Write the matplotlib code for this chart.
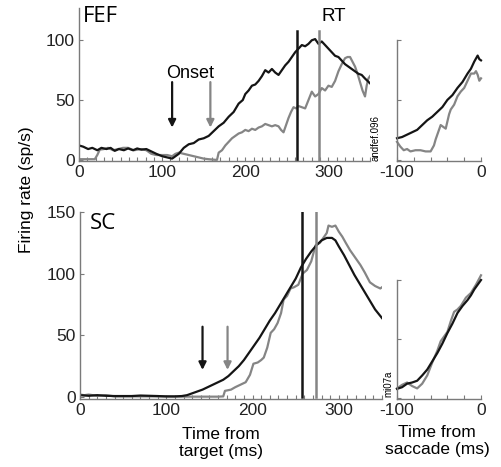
import matplotlib
matplotlib.use('Agg')
import matplotlib.pyplot as plt
from matplotlib.ticker import MultipleLocator, FixedLocator

plt.rcParams['font.family'] = ['Liberation Sans', 'DejaVu Sans']
plt.rcParams['axes.unicode_minus'] = False

# ---- data ----
# FEF, aligned on target (ms, sp/s)
fef_t_black = [0, 5, 11, 16, 22, 27, 33, 38, 43, 48, 54, 59, 65, 70, 75, 81, 87, 93, 100, 106,
               112, 116, 120, 126, 132, 138, 144, 150, 156, 162, 168, 174, 180, 186, 192, 197,
               200, 204, 208, 212, 216, 220, 224, 228, 232, 236, 240, 244, 248, 252, 256, 260,
               264, 268, 272, 276, 280, 284, 288, 292, 296, 300, 304, 308, 312, 316, 320, 324,
               328, 332, 336, 340, 344, 350]
fef_v_black = [12, 11, 9, 10, 8, 10, 9, 10, 7.5, 9, 8, 9.5, 8, 9.5, 8.5, 9, 7, 5, 3, 2,
               1, 3, 5, 10, 13, 14, 17, 18, 20, 24, 28, 31, 36, 40, 47, 50,
               55, 58, 62, 63, 66, 70, 75, 73, 76, 73, 71, 75, 79, 82, 86, 90,
               93, 96, 95, 97, 100, 101, 97, 99, 96, 93, 90, 87, 86, 83, 80, 78,
               76, 74, 72, 71, 68, 64]
fef_t_gray = [0, 10, 19, 22, 25, 30, 35, 41, 47, 53, 59, 66, 75, 81, 87, 93, 100, 106, 112,
              116, 120, 126, 132, 138, 144, 150, 156, 164, 166, 168, 172, 176, 180, 184, 188,
              192, 196, 200, 204, 208, 212, 216, 220, 224, 228, 232, 236, 240, 243, 246, 249,
              252, 255, 258, 261, 264, 268, 272, 276, 280, 284, 288, 292, 296, 300, 304, 308,
              312, 316, 320, 323, 326, 329, 332, 335, 338, 341, 344, 346, 348, 350]
fef_v_gray = [0.5, 0.5, 0.5, 4, 8.5, 9, 10, 8, 9, 10, 10, 8, 9, 8, 5, 4, 4, 4, 3,
              5, 6, 5, 4, 3, 2, 1, 0.5, 0, 0, 6, 8, 12, 15, 18, 20,
              22, 23, 25, 24, 26, 25, 27, 28, 30, 29, 28, 29, 28, 25, 23, 29,
              35, 40, 44, 43, 45, 44, 43, 50, 57, 53, 55, 60, 58, 62, 61, 66,
              74, 80, 85, 86, 86, 82, 78, 72, 65, 58, 53, 62, 68, 70]

# FEF, aligned on saccade
fef_s_black = [-100, -94, -88, -82, -76, -70, -64, -58, -52, -46, -40, -34, -28, -22, -16, -12, -8, -4, -2, 0]
fef_sv_black = [18, 19, 21, 23, 25, 29, 33, 36, 40, 44, 50, 54, 60, 65, 72, 76, 82, 87, 84, 83]
fef_s_gray = [-100, -96, -92, -88, -84, -78, -72, -66, -60, -56, -54, -50, -48, -44, -42, -38, -36,
              -32, -28, -24, -20, -16, -12, -8, -6, -4, -2, 0]
fef_sv_gray = [15, 11, 8, 9, 7, 8, 8, 7, 7, 12, 17, 25, 29, 27, 26, 38, 42,
               46, 53, 57, 60, 66, 72, 72, 74, 71, 66, 68]

# SC, aligned on target
sc_t_black = [0, 10, 20, 30, 40, 50, 60, 70, 80, 90, 100, 110, 118, 124, 130, 136, 142, 148, 154,
              160, 166, 172, 178, 184, 190, 196, 202, 208, 214, 220, 226, 232, 238, 244, 250,
              256, 262, 268, 274, 280, 286, 292, 296, 300, 306, 312, 318, 324, 330, 336, 342, 350]
sc_v_black = [1.5, 1, 1.5, 1, 0.8, 0.8, 0.8, 1.2, 1, 0.8, 0.5, 0.5, 0.8, 1.5, 3, 4.5, 6, 8, 10,
              12, 14, 17, 21, 25, 30, 36, 42, 48, 55, 62, 68, 75, 82, 89, 96,
              105, 112, 118, 123, 127, 129, 129, 127, 122, 115, 107, 99, 92, 85, 78, 71, 64]
sc_t_gray = [0, 5, 10, 20, 30, 40, 60, 80, 100, 120, 140, 160, 166, 168, 175, 180, 186, 192,
             197, 201, 206, 210, 213, 217, 221, 225, 229, 233, 236, 240, 244, 248, 253, 258,
             263, 268, 273, 278, 282, 286, 288, 292, 296, 300, 304, 308, 313, 318, 325, 330,
             336, 342, 348, 350]
sc_v_gray = [2, 1.5, 2, 1, 1.5, 0.5, 0.5, 0.5, 0.5, 0.3, 0.3, 0.3, 0.5, 5, 6, 8, 10, 12,
             18, 27, 28, 30, 32, 40, 52, 55, 60, 68, 79, 82, 88, 89, 91, 100,
             103, 110, 123, 125, 129, 133, 139, 138, 139, 134, 130, 125, 119, 114, 107, 101,
             93, 90, 88, 89]

# SC, aligned on saccade
sc_s_black = [-100, -94, -88, -82, -76, -70, -64, -58, -52, -46, -40, -34, -28, -22, -16, -12, -8, -4, 0]
sc_sv_black = [7.6, 9, 12, 13, 14.5, 19, 24, 31, 38, 46, 55, 63, 72, 78, 83, 87, 92, 96, 100]
sc_s_gray = [-100, -94, -88, -82, -76, -70, -64, -58, -52, -48, -44, -40, -36, -32, -28, -24, -18, -12, -6, 0]
sc_sv_gray = [8, 11, 13, 10, 8, 12, 19, 30, 40, 48, 52, 56, 65, 73, 75, 78, 85, 89, 96, 104]

# reaction times, onsets
rt_fef = [262, 289]
rt_sc = [257, 273]
onset_fef = [112, 158]
onset_sc = [142, 171]

BLACK = '#151515'
GRAY = '#858585'
SPINE = '#7a7a7a'

W, H = 502, 467
fig = plt.figure(figsize=(W / 100, H / 100), dpi=100)


def box(x0, y0, x1, y1):
    return [x0 / W, 1 - y1 / H, (x1 - x0) / W, (y1 - y0) / H]


def style(ax):
    for s in ['top', 'right']:
        ax.spines[s].set_visible(False)
    for s in ['left', 'bottom']:
        ax.spines[s].set_color(SPINE)
        ax.spines[s].set_linewidth(1.0)
    ax.tick_params(direction='in', length=3, width=0.8, color=SPINE,
                   labelsize=12.5, labelcolor='#222222', pad=3)
    ax.tick_params(which='minor', direction='in', length=3, width=0.8, color=SPINE)
    ax.patch.set_alpha(0)


ax1 = fig.add_axes(box(79, 8, 370, 161))
ax2 = fig.add_axes(box(397, 40, 481, 161))
ax3 = fig.add_axes(box(80, 212, 382, 399))
ax4 = fig.add_axes(box(397, 280, 481, 399))

# ---- FEF target aligned ----
ax1.plot(fef_t_gray, fef_v_gray, color=GRAY, lw=1.6)
ax1.plot(fef_t_black, fef_v_black, color=BLACK, lw=1.6)
ax1.plot([rt_fef[0]] * 2, [0, 108], color=BLACK, lw=1.8)
ax1.plot([rt_fef[1]] * 2, [0, 108], color=GRAY, lw=1.8)
ax1.set_xlim(0, 350)
ax1.set_ylim(-1, 127)
ax1.set_yticks([0, 50, 100])
ax1.xaxis.set_major_locator(FixedLocator([0, 100, 200, 300]))
ax1.xaxis.set_minor_locator(MultipleLocator(10))
for x, c in zip(onset_fef, [BLACK, GRAY]):
    ax1.annotate('', xy=(x, 27), xytext=(x, 65),
                 arrowprops=dict(arrowstyle='-|>', color=c, lw=1.6, mutation_scale=11,
                                 shrinkA=0, shrinkB=0))
ax1.text(134, 72, 'Onset', fontsize=13, ha='center', va='center')
ax1.text(306, 120, 'RT', fontsize=13.5, ha='center', va='center')
ax1.text(5, 120, 'FEF', fontsize=16, family=['Open Sans', 'DejaVu Sans'], va='center')
style(ax1)

# ---- FEF saccade aligned ----
ax2.plot(fef_s_gray, fef_sv_gray, color=GRAY, lw=1.6, clip_on=False)
ax2.plot(fef_s_black, fef_sv_black, color=BLACK, lw=1.6, clip_on=False)
ax2.set_xlim(-100, 0)
ax2.set_ylim(-1, 100)
ax2.set_yticks([0, 50, 100])
ax2.set_yticklabels([])
ax2.xaxis.set_major_locator(FixedLocator([-100, 0]))
ax2.xaxis.set_minor_locator(MultipleLocator(20))
style(ax2)

# ---- SC target aligned ----
ax3.plot(sc_t_gray, sc_v_gray, color=GRAY, lw=1.6)
ax3.plot(sc_t_black, sc_v_black, color=BLACK, lw=1.6)
ax3.plot([rt_sc[0]] * 2, [0, 150], color=BLACK, lw=1.8)
ax3.plot([rt_sc[1]] * 2, [0, 150], color=GRAY, lw=1.8)
ax3.set_xlim(0, 350)
ax3.set_ylim(-1.6, 150)
ax3.set_yticks([0, 50, 100, 150])
ax3.xaxis.set_major_locator(FixedLocator([0, 100, 200, 300]))
ax3.xaxis.set_minor_locator(MultipleLocator(10))
for x, c in zip(onset_sc, [BLACK, GRAY]):
    ax3.annotate('', xy=(x, 22), xytext=(x, 57),
                 arrowprops=dict(arrowstyle='-|>', color=c, lw=1.6, mutation_scale=11,
                                 shrinkA=0, shrinkB=0))
ax3.text(11, 141, 'SC', fontsize=16, family=['Open Sans', 'DejaVu Sans'], va='center')
style(ax3)

# ---- SC saccade aligned ----
ax4.plot(sc_s_gray, sc_sv_gray, color=GRAY, lw=1.6, clip_on=False)
ax4.plot(sc_s_black, sc_sv_black, color=BLACK, lw=1.6, clip_on=False)
ax4.set_xlim(-100, 0)
ax4.set_ylim(-1, 100)
ax4.set_yticks([0, 50, 100])
ax4.set_yticklabels([])
ax4.xaxis.set_major_locator(FixedLocator([-100, 0]))
ax4.xaxis.set_minor_locator(MultipleLocator(20))
style(ax4)

# ---- labels ----
fig.text(27 / W, 1 - 190 / H, 'Firing rate (sp/s)', rotation=90, fontsize=12.5,
         ha='center', va='center')
fig.text(221 / W, 1 - 443 / H, 'Time from\ntarget (ms)', fontsize=12.5,
         ha='center', va='center', linespacing=1.15)
fig.text(437 / W, 1 - 441 / H, 'Time from\nsaccade (ms)', fontsize=12.5,
         ha='center', va='center', linespacing=1.15)
fig.text(376 / W, 1 - 138 / H, 'andfef.096', rotation=90, fontsize=7,
         ha='center', va='center')
fig.text(388 / W, 1 - 384 / H, 'mi07a', rotation=90, fontsize=7,
         ha='center', va='center')

fig.savefig('out.png', dpi=100)
